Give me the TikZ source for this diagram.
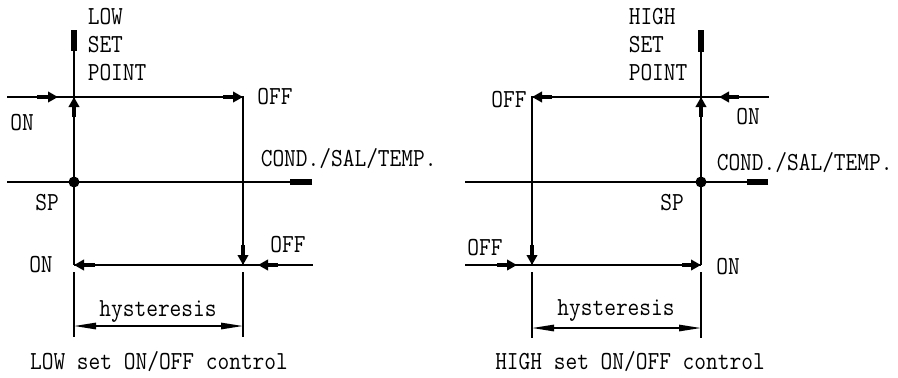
\documentclass[tikz,border=0pt]{standalone}
\usepackage{fontspec}
\setmonofont[FakeStretch=0.875]{Latin Modern Mono}
\usetikzlibrary{arrows.meta}
\begin{document}
\begin{tikzpicture}[x=0.5pt,y=-0.5pt,line width=.8pt,font=\fontsize{13}{14}\selectfont\ttfamily,lbl/.style={inner sep=0pt},flow/.style={line width=2.4pt,-{Triangle[length=5pt,width=5.2pt]}},stub/.style={line width=2.8pt},dim/.style={{Triangle[length=11pt,width=3.2pt]}-{Triangle[length=11pt,width=3.2pt]}},dot/.style={circle,fill,inner sep=0pt,minimum size=5.5pt}]
\useasboundingbox (0,0) rectangle (898,377);
% LOW set point
\coordinate (l-top) at (74,30);
\coordinate (l-in) at (7,97);
\coordinate (l-up) at (74,97);
\coordinate (l-off) at (243,97);
\coordinate (l-ax0) at (7,182);
\coordinate (l-ax1) at (312,182);
\coordinate (l-down) at (243,265);
\coordinate (l-on) at (74,265);
\coordinate (l-out) at (313,265);
\coordinate (l-d0) at (74,326);
\coordinate (l-d1) at (243,326);
\draw (l-top)--(l-on);
\draw (l-in)--(l-off)--(l-down);
\draw (l-ax0)--(l-ax1);
\draw (l-on)--(l-out);
\draw[stub] (l-top)--++(0,21);
\draw[stub] (l-ax1)--++(-22,0);
\node[dot] (l-sp) at (74,182) {};
\draw[flow] (l-in) ++(30,0)--++(21,0);
\draw[flow] (l-off) ++(-20,0)--(l-off);
\draw[flow] (l-up) ++(0,20)--(l-up);
\draw[flow] (l-down) ++(0,-20)--(l-down);
\draw[flow] (l-on) ++(21,0)--(l-on);
\draw[flow] (l-out) ++(-35,0)--++(-20,0);
\draw (l-on) ++(0,7)--++(0,65);
\draw (l-down) ++(0,7)--++(0,65);
\draw[dim] (l-d0)--(l-d1);
\node[lbl,anchor=west,align=left] (l-name) at (87,45) {LOW\\SET\\POINT};
\node[lbl] (l-offtxt) at (275,97) {OFF};
\node[lbl] (l-ontxt) at (22,123) {ON};
\node[lbl,anchor=west] (l-var) at (260,159) {COND./SAL/TEMP.};
\node[lbl] (l-sptxt) at (47,203) {SP};
\node[lbl] (l-onbot) at (41,265) {ON};
\node[lbl] (l-offbot) at (288,245) {OFF};
\node[lbl] (l-hys) at (158,312) {hysteresis};
\node[lbl] (l-cap) at (159,362) {LOW set ON/OFF control};
% HIGH set point
\coordinate (h-top) at (701,30);
\coordinate (h-in) at (769,97);
\coordinate (h-up) at (701,97);
\coordinate (h-off) at (532,97);
\coordinate (h-ax0) at (465,182);
\coordinate (h-ax1) at (768,182);
\coordinate (h-down) at (532,265);
\coordinate (h-on) at (701,265);
\coordinate (h-out) at (465,265);
\coordinate (h-d0) at (532,328);
\coordinate (h-d1) at (701,328);
\draw (h-top)--(h-on);
\draw (h-in)--(h-off)--(h-down);
\draw (h-ax0)--(h-ax1);
\draw (h-out)--(h-on);
\draw[stub] (h-top)--++(0,22);
\draw[stub] (h-ax1)--++(-21,0);
\node[dot] (h-sp) at (701,182) {};
\draw[flow] (h-in) ++(-30,0)--++(-20,0);
\draw[flow] (h-off) ++(20,0)--(h-off);
\draw[flow] (h-up) ++(0,20)--(h-up);
\draw[flow] (h-down) ++(0,-20)--(h-down);
\draw[flow] (h-out) ++(32,0)--++(20,0);
\draw[flow] (h-on) ++(-19,0)--(h-on);
\draw (h-down) ++(0,7)--++(0,66);
\draw (h-on) ++(0,7)--++(0,66);
\draw[dim] (h-d0)--(h-d1);
\node[lbl,anchor=west,align=left] (h-name) at (628,45) {HIGH\\SET\\POINT};
\node[lbl] (h-offtxt) at (509,100) {OFF};
\node[lbl] (h-ontxt) at (748,117) {ON};
\node[lbl,anchor=west] (h-var) at (716,163) {COND./SAL/TEMP.};
\node[lbl] (h-sptxt) at (672,203) {SP};
\node[lbl] (h-offbot) at (485,248) {OFF};
\node[lbl] (h-onbot) at (728,267) {ON};
\node[lbl] (h-hys) at (616,311) {hysteresis};
\node[lbl] (h-cap) at (630,362) {HIGH set ON/OFF control};
\end{tikzpicture}
\end{document}
